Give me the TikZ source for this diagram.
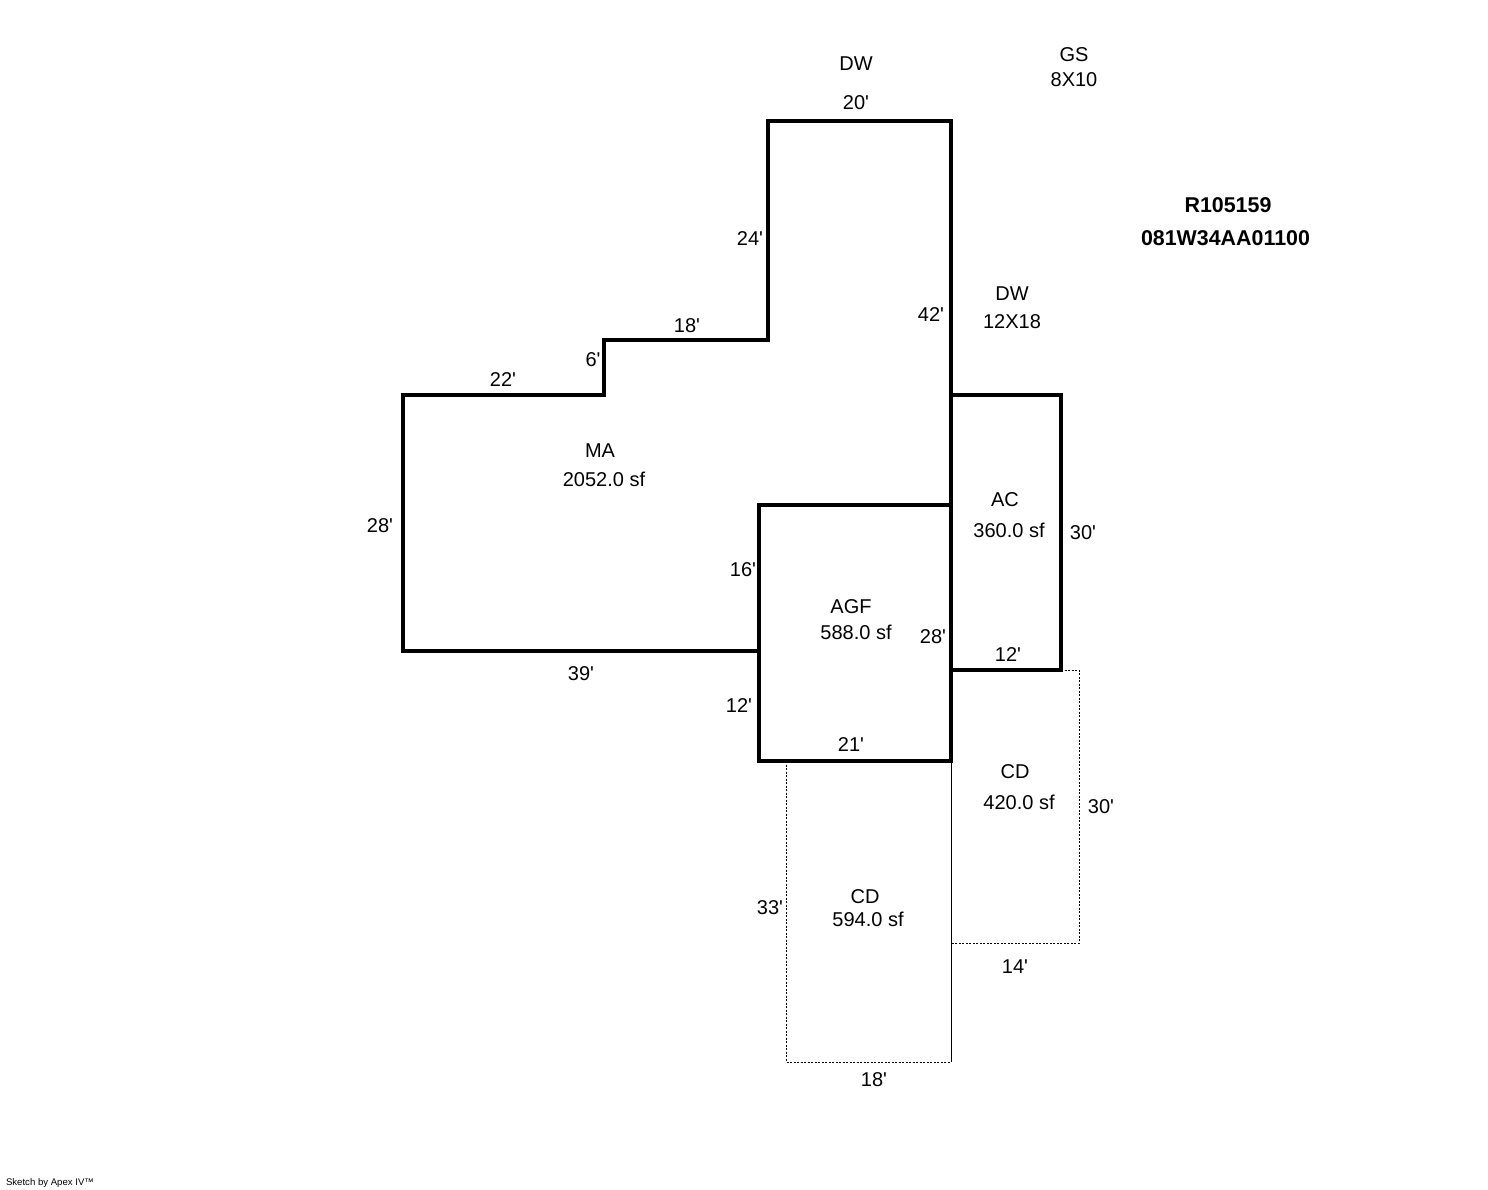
\documentclass[tikz,border=0pt]{standalone}
\usepackage{fontspec}
\newfontfamily\plansans{Liberation Sans}
\begin{document}
\begin{tikzpicture}[x=1pt,y=-1pt,font=\plansans\fontsize{20}{24}\selectfont,
    every node/.style={inner sep=0pt, outer sep=0pt},
    wall/.style={line width=3.6pt, line join=miter, black},
    deck/.style={line width=1pt, black, dash pattern=on 2pt off 1.5pt},
    title/.style={font=\plansans\fontsize{21.4}{24}\selectfont\bfseries}]
        \useasboundingbox (0,0) rectangle (1488,1190);
        % decks first, walls go over them
        \draw [deck] (786.5,761) -- (786.5,1062) -- (951,1062);
        \draw [line width=1pt] (951,761) -- (951,1062);
        \draw [deck] (1061,670) -- (1079,670) -- (1079,943) -- (951,943);
        % main area
        \draw [wall] (403,395) -- (604,395) -- (604,340) -- (768,340) -- (768,121) -- (951,121) -- (951,505) -- (759,505) -- (759,651) -- (403,651) -- cycle;
        \draw [wall] (759,505) -- (951,505) -- (951,761) -- (759,761) -- cycle;
        \draw [wall] (951,395) -- (1061,395) -- (1061,670) -- (951,670);
        % areas
        \node at (600,451) (MAname) {MA};
        \node at (604,479) (MAsize) {2052.0 sf};
        \node at (1005,500) (ACname) {AC};
        \node at (1009,530) (ACsize) {360.0 sf};
        \node at (851,607) (AGFname) {AGF};
        \node at (856,632) (AGFsize) {588.0 sf};
        \node at (1015,772) (CDaname) {CD};
        \node at (1019,802) (CDasize) {420.0 sf};
        \node at (865,897) (CDbname) {CD};
        \node at (868,919) (CDbsize) {594.0 sf};
        % flat work
        \node at (856,64) (DWa) {DW};
        \node at (1074,55) (GSname) {GS};
        \node at (1074,80) (GSsize) {8X10};
        \node at (1012,294) (DWb) {DW};
        \node at (1012,322) (DWbsize) {12X18};
        % parcel
        \node [title] at (1228,205) (parcel) {R105159};
        \node [title] at (1225.5,238) (acct) {081W34AA01100};
        % dimensions
        \node at (856,103) (d20) {20'};
        \node at (750,239) (d24) {24'};
        \node at (931,315) (d42) {42'};
        \node at (687,326) (d18) {18'};
        \node at (593,360) (d6) {6'};
        \node at (503,380) (d22) {22'};
        \node at (380,526) (d28) {28'};
        \node at (1083,533) (d30) {30'};
        \node at (743,570) (d16) {16'};
        \node at (933,637) (d28b) {28'};
        \node at (1008,655) (d12) {12'};
        \node at (581,674) (d39) {39'};
        \node at (739,706) (d12b) {12'};
        \node at (851,745) (d21) {21'};
        \node at (1101,807) (d30b) {30'};
        \node at (770,908) (d33) {33'};
        \node at (1015,967) (d14) {14'};
        \node at (874,1080) (d18b) {18'};
        \node [anchor=west, font=\plansans\fontsize{9.6}{11}\selectfont] at (6,1183) (sketch) {Sketch by Apex IV™};
\end{tikzpicture}
\end{document}
